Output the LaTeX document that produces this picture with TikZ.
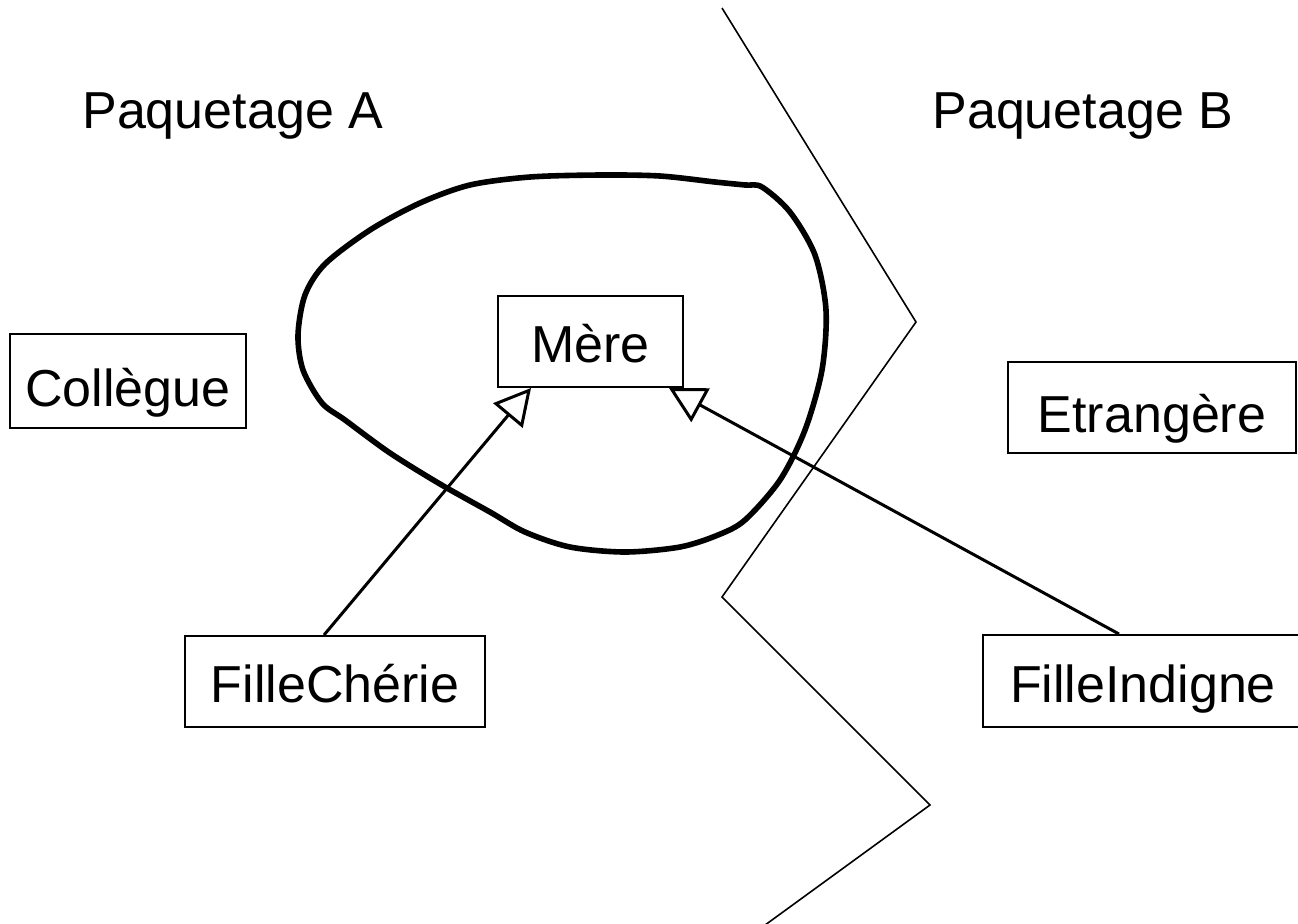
\documentclass[tikz,border=0pt]{standalone}
\usepackage{fontspec}
\setmainfont{Liberation Sans}
\usetikzlibrary{arrows.meta}
\begin{document}
\begin{tikzpicture}[x=0.5pt,y=-0.5pt,
  cls/.style={draw=black,line width=1pt,inner sep=0pt,font=\fontsize{26pt}{30pt}\selectfont,text height=21pt,text depth=0pt,minimum height=45.5pt},
  pkg/.style={inner sep=0pt,anchor=base west,font=\fontsize{26pt}{30pt}\selectfont},
  inh/.style={line width=1.5pt,-{Triangle[fill=white,length=18pt,width=19pt,line width=1.5pt]}},
  border/.style={line width=0.8pt},
  blob/.style={line width=2.8pt}]
\useasboundingbox[fill=white] (0,0) rectangle (1298,923);
% package labels
\node[pkg] (pa) at (82,128) {Paquetage A};
\node[pkg] (pb) at (932,128) {Paquetage B};
% package border
\draw[border] (722,8) -- (916,322) -- (722,597) -- (930,805) -- (750,936);
% blob
\draw[blob] plot[smooth cycle,tension=0.5] coordinates {
 (762,187) (790,212) (815,255) (826,310) (822,370) (805,430) (780,480)
 (745,520) (718,535) (680,547) (625,552) (570,547) (525,532) (490,512)
 (440,484) (390,453) (345,420) (322,403) (303,370) (298,335) (305,295)
 (325,264) (370,230) (420,203) (470,185) (530,177) (600,175) (660,176)
 (715,182) (745,185)};
% classes
\node[cls,minimum width=92.5pt] (mere) at (590.5,341.5) {Mère};
\node[cls,minimum width=118pt,minimum height=47pt,text height=25pt] (coll) at (128,381) {Collègue};
\node[cls,minimum width=144pt,text height=25pt] (etr) at (1152,407) {Etrangère};
\node[cls,minimum width=150pt] (fc) at (335,681.5) {FilleChérie};
\node[cls,minimum width=160pt,minimum height=46pt] (fi) at (1143,681) {FilleIndigne};
% inheritance
\draw[inh] ([xshift=70pt]fc.north west) -- ([xshift=17pt]mere.south west);
\draw[inh] ([xshift=68.5pt]fi.north west) -- ([xshift=-7.5pt]mere.south east);
\end{tikzpicture}
\end{document}
